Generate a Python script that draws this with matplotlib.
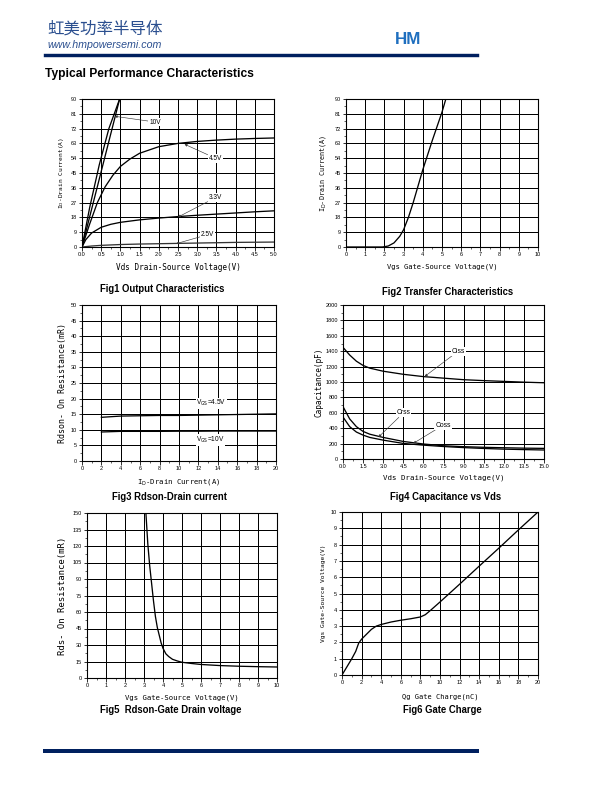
import matplotlib
matplotlib.use("Agg")
import matplotlib.pyplot as plt
from matplotlib.ticker import MultipleLocator, AutoMinorLocator, FormatStrFormatter
from matplotlib.lines import Line2D

# ---------------- data ----------------
# Fig1 output characteristics
f1_10v_x = [0.0, 0.98]
f1_10v_y = [0.0, 90.0]
f1_aux_x = [0.0, 0.2, 0.45, 0.7, 0.98]
f1_aux_y = [0.0, 24.0, 50.0, 72.0, 90.0]
f1_45v_x = [0.0, 0.2, 0.4, 0.6, 0.8, 1.0, 1.25, 1.5, 2.0, 2.5, 3.0, 3.5, 4.0, 4.5, 5.0]
f1_45v_y = [0.0, 14.0, 27.0, 36.5, 43.5, 49.0, 53.5, 57.0, 61.0, 63.0, 64.2, 65.0, 65.6, 66.0, 66.3]
f1_33v_x = [0.0, 0.1, 0.25, 0.5, 0.75, 1.0, 1.5, 2.0, 2.5, 3.0, 3.5, 4.0, 4.5, 5.0]
f1_33v_y = [0.0, 4.5, 8.5, 12.0, 13.8, 15.0, 16.5, 17.6, 18.5, 19.3, 20.0, 20.7, 21.4, 22.0]
f1_25v_x = [0.0, 0.25, 0.5, 1.0, 1.5, 2.0, 2.5, 3.0, 3.5, 4.0, 4.5, 5.0]
f1_25v_y = [0.0, 0.6, 1.0, 1.5, 1.8, 2.0, 2.2, 2.4, 2.6, 2.8, 2.9, 3.0]

# Fig2 transfer characteristics
f2_x = [0.0, 1.0, 1.9, 2.2, 2.5, 2.8, 3.0, 3.25, 3.5, 3.75, 4.0, 4.5, 5.0, 5.2]
f2_y = [0.0, 0.0, 0.0, 0.6, 2.5, 6.5, 10.5, 18.0, 27.0, 37.0, 47.0, 65.0, 82.0, 90.0]

# Fig3 Rdson vs drain current
f3_id = [2, 4, 6, 8, 10, 12, 14, 16, 18, 20]
f3_45v = [14.0, 14.4, 14.5, 14.6, 14.6, 14.7, 14.8, 14.9, 15.0, 15.1]
f3_10v = [9.3, 9.5, 9.5, 9.5, 9.55, 9.55, 9.6, 9.6, 9.6, 9.6]

# Fig4 capacitance vs Vds
f4_vds = [0.0, 0.5, 1.0, 1.5, 2.0, 3.0, 4.5, 6.0, 7.5, 9.0, 10.5, 12.0, 13.5, 15.0]
f4_ciss = [1450, 1350, 1270, 1215, 1180, 1140, 1100, 1070, 1050, 1030, 1018, 1008, 998, 990]
f4_crss = [680, 520, 420, 358, 322, 280, 228, 195, 172, 160, 152, 146, 141, 138]
f4_coss = [545, 420, 350, 310, 280, 245, 202, 180, 162, 148, 137, 128, 122, 117]

# Fig5 Rdson vs Vgs
f5_vgs = [3.1, 3.2, 3.3, 3.4, 3.5, 3.6, 3.7, 3.8, 3.9, 4.0, 4.15, 4.3, 4.5, 4.75, 5.0, 5.5, 6.0, 7.0, 8.0, 9.0, 10.0]
f5_rds = [150, 122, 102, 86, 70, 56, 46, 39, 32, 27, 22, 19.5, 17, 15.5, 14.3, 13.2, 12.3, 11.3, 10.7, 10.3, 10.0]

# Fig6 gate charge
f6_qg = [0.0, 0.5, 1.0, 1.4, 1.7, 2.0, 2.5, 3.0, 3.5, 4.0, 5.0, 6.0, 7.0, 8.0, 8.5, 9.0, 10.0, 12.0, 14.0, 16.0, 18.0, 20.0]
f6_vgs = [0.0, 0.5, 1.0, 1.45, 1.95, 2.2, 2.5, 2.8, 3.0, 3.1, 3.25, 3.36, 3.45, 3.56, 3.7, 3.95, 4.48, 5.57, 6.68, 7.78, 8.9, 10.0]

# ---------------- figure ----------------
W, H = 612, 792
fig = plt.figure(figsize=(W / 72, H / 72), dpi=72)
fig.patch.set_facecolor("white")

MONO = "DejaVu Sans Mono"
SANS = "Liberation Sans"


def px(x, y):
    return x / W, 1 - y / H


def make_ax(x0, y0, x1, y1):
    ax = fig.add_axes([x0 / W, 1 - y1 / H, (x1 - x0) / W, (y1 - y0) / H])
    for s in ax.spines.values():
        s.set_linewidth(1.1)
        s.set_color("black")
    ax.grid(True, color="black", linewidth=1.0)
    ax.set_axisbelow(True)
    ax.tick_params(which="major", direction="out", length=3.5, width=0.8,
                   labelsize=5.5, pad=1.5)
    ax.tick_params(which="minor", direction="out", length=2, width=0.6)
    ax.xaxis.set_minor_locator(AutoMinorLocator(2))
    ax.yaxis.set_minor_locator(AutoMinorLocator(2))
    return ax


def labels(ax, xl, xs, xy_px, yl, ys, yx_px, box, yfam=MONO, xfam=MONO):
    x0, y0, x1, y1 = box
    ax.set_xlabel(xl, fontsize=xs, family=xfam, va="center", ha="center")
    ax.xaxis.set_label_coords(0.5, (y1 - xy_px) / (y1 - y0))
    ax.set_ylabel(yl, fontsize=ys, family=yfam, va="center", ha="center")
    ax.yaxis.set_label_coords((yx_px - x0) / (x1 - x0), 0.5)


def note(ax, text, xy_text, xy_arrow, size=6.5):
    ax.annotate(text, xy=xy_arrow, xytext=xy_text, fontsize=size, family=SANS,
                ha="left", va="center",
                bbox=dict(boxstyle="square,pad=0.15", fc="white", ec="none"),
                arrowprops=dict(arrowstyle="-|>", color="#333333", lw=0.6,
                                mutation_scale=5, shrinkA=0, shrinkB=0))


LW = 1.3

# header
fig.text(*px(47, 29), "虹美功率半导体", fontsize=16.5, color="#2b4f8f",
         family=["Noto Sans CJK SC", "DejaVu Sans"], va="center", ha="left")
fig.text(*px(47, 44.5), "www.hmpowersemi.com", fontsize=10.6, color="#2b4f8f",
         family=SANS, style="italic", va="center", ha="left")
fig.text(*px(395, 40), "HM", fontsize=17, color="#1f6fbf", family=SANS,
         weight="bold", va="center", ha="left")
fig.add_artist(Line2D([45 / W, 477 / W], [1 - 55 / H] * 2, lw=3.4, color="#00205f"))
fig.add_artist(Line2D([45 / W, 477 / W], [1 - 751 / H] * 2, lw=4, color="#00205f"))
fig.text(*px(45, 74), "Typical Performance Characteristics", fontsize=12,
         family=SANS, weight="bold", va="center", ha="left")

# ---------- Fig1 ----------
b1 = (82, 99, 274, 247)
ax1 = make_ax(*b1)
ax1.plot(f1_10v_x, f1_10v_y, color="black", lw=LW)
ax1.plot(f1_aux_x, f1_aux_y, color="black", lw=LW)
ax1.plot(f1_45v_x, f1_45v_y, color="black", lw=LW)
ax1.plot(f1_33v_x, f1_33v_y, color="black", lw=LW)
ax1.plot(f1_25v_x, f1_25v_y, color="#333333", lw=LW)
ax1.set_xlim(0, 5)
ax1.set_ylim(0, 90)
ax1.xaxis.set_major_locator(MultipleLocator(0.5))
ax1.xaxis.set_major_formatter(FormatStrFormatter("%.1f"))
ax1.yaxis.set_major_locator(MultipleLocator(9))
labels(ax1, "Vds Drain-Source Voltage(V)", 7.6, 267,
       r"I$_\mathrm{D}$-Drain Current(A)", 6.2, 62, b1)
note(ax1, "10V", (1.75, 76), (0.85, 79.5))
note(ax1, "4.5V", (3.3, 54), (2.67, 62.5))
note(ax1, "3.3V", (3.3, 30), (2.5, 18.2))
note(ax1, "2.5V", (3.1, 7.5), (2.45, 2.0))
fig.text(*px(162, 289), "Fig1 Output Characteristics", fontsize=9.5, family=SANS,
         weight="bold", ha="center", va="center")

# ---------- Fig2 ----------
b2 = (346, 99, 538, 247)
ax2 = make_ax(*b2)
ax2.plot(f2_x, f2_y, color="black", lw=LW)
ax2.set_xlim(0, 10)
ax2.set_ylim(0, 90)
ax2.xaxis.set_major_locator(MultipleLocator(1))
ax2.yaxis.set_major_locator(MultipleLocator(9))
labels(ax2, "Vgs Gate-Source Voltage(V)", 7.1, 267,
       r"I$_\mathrm{D}$-Drain Current(A)", 6.8, 323, b2)
fig.text(*px(448, 292), "Fig2 Transfer Characteristics", fontsize=9.5, family=SANS,
         weight="bold", ha="center", va="center")

# ---------- Fig3 ----------
b3 = (82, 305, 276, 461)
ax3 = make_ax(*b3)
ax3.plot(f3_id, f3_45v, color="black", lw=LW)
ax3.plot(f3_id, f3_10v, color="black", lw=LW)
ax3.set_xlim(0, 20)
ax3.set_ylim(0, 50)
ax3.xaxis.set_major_locator(MultipleLocator(2))
ax3.yaxis.set_major_locator(MultipleLocator(5))
labels(ax3, r"I$_\mathrm{D}$-Drain Current(A)", 7.2, 482,
       "Rdson- On Resistance(mR)", 8.3, 62, b3)
ax3.text(11.8, 18.5, r"V$_\mathrm{GS}$=4.5V", fontsize=6.5, family=SANS,
         va="center", ha="left",
         bbox=dict(boxstyle="square,pad=0.1", fc="white", ec="none"))
ax3.text(11.8, 6.8, r"V$_\mathrm{GS}$=10V", fontsize=6.5, family=SANS,
         va="center", ha="left",
         bbox=dict(boxstyle="square,pad=0.1", fc="white", ec="none"))
fig.text(*px(169, 497), "Fig3 Rdson-Drain current", fontsize=9.5, family=SANS,
         weight="bold", ha="center", va="center")

# ---------- Fig4 ----------
b4 = (343, 305, 544, 459)
ax4 = make_ax(*b4)
ax4.plot(f4_vds, f4_ciss, color="black", lw=LW)
ax4.plot(f4_vds, f4_crss, color="black", lw=LW)
ax4.plot(f4_vds, f4_coss, color="black", lw=LW)
ax4.set_xlim(0, 15)
ax4.set_ylim(0, 2000)
ax4.xaxis.set_major_locator(MultipleLocator(1.5))
ax4.xaxis.set_major_formatter(FormatStrFormatter("%.1f"))
ax4.yaxis.set_major_locator(MultipleLocator(200))
labels(ax4, "Vds Drain-Source Voltage(V)", 7.4, 478,
       "Capacitance(pF)", 7.8, 319, b4)
note(ax4, "Ciss", (8.1, 1400), (6.1, 1072), size=6.8)
note(ax4, "Crss", (4.0, 600), (2.65, 285), size=6.8)
note(ax4, "Coss", (6.9, 440), (5.25, 203), size=6.8)
fig.text(*px(446, 497), "Fig4 Capacitance vs Vds", fontsize=9.5, family=SANS,
         weight="bold", ha="center", va="center")

# ---------- Fig5 ----------
b5 = (87, 513, 277, 678)
ax5 = make_ax(*b5)
ax5.plot(f5_vgs, f5_rds, color="black", lw=LW)
ax5.set_xlim(0, 10)
ax5.set_ylim(0, 150)
ax5.xaxis.set_major_locator(MultipleLocator(1))
ax5.yaxis.set_major_locator(MultipleLocator(15))
labels(ax5, "Vgs Gate-Source Voltage(V)", 7.2, 698,
       "Rds- On Resistance(mR)", 9.0, 63, b5)
fig.text(*px(171, 710), "Fig5  Rdson-Gate Drain voltage", fontsize=9.5, family=SANS,
         weight="bold", ha="center", va="center")

# ---------- Fig6 ----------
b6 = (342, 512, 538, 675)
ax6 = make_ax(*b6)
ax6.plot(f6_qg, f6_vgs, color="black", lw=LW)
ax6.set_xlim(0, 20)
ax6.set_ylim(0, 10)
ax6.xaxis.set_major_locator(MultipleLocator(2))
ax6.yaxis.set_major_locator(MultipleLocator(1))
labels(ax6, "Qg Gate Charge(nC)", 7.0, 697,
       "Vgs Gate-Source Voltage(V)", 6.2, 323, b6)
fig.text(*px(442, 710), "Fig6 Gate Charge", fontsize=9.5, family=SANS,
         weight="bold", ha="center", va="center")

for ax in (ax1, ax2, ax3, ax4, ax5, ax6):
    for lab in ax.get_xticklabels() + ax.get_yticklabels():
        lab.set_family(SANS)

fig.savefig("out.png", dpi=72, facecolor="white")
